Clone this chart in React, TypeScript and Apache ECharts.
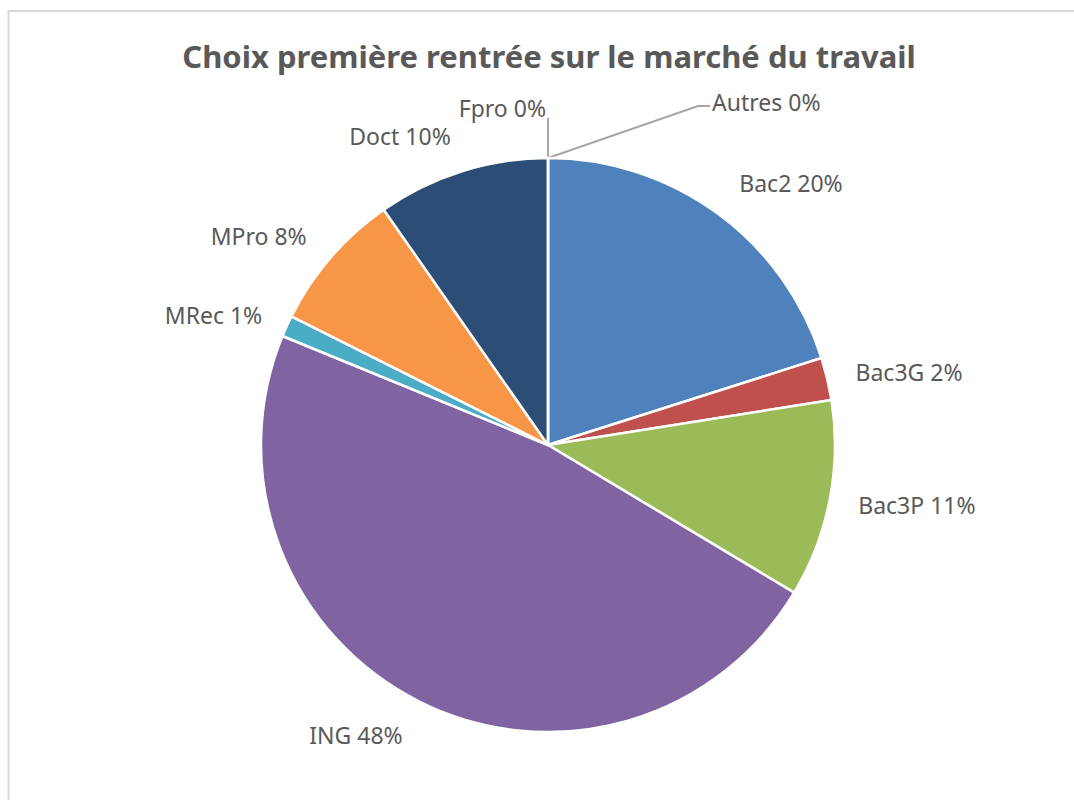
import React, { useEffect, useRef } from "react";
import * as echarts from "echarts";

const titleText = "Choix première rentrée sur le marché du travail";
const categories = ["Fpro", "Bac2", "Bac3G", "Bac3P", "ING", "MRec", "MPro", "Doct", "Autres"];
const values = [0, 20.1, 2.4, 11.1, 47.6, 1.2, 7.9, 9.7, 0];
const colors = ["#7f7f7f", "#4f81bd", "#c0504d", "#9bbb59", "#8064a2", "#4bacc6", "#f79646", "#2c4d75", "#a5a5a5"];
const lineLengths = [39, 37, 29, 29, 37, 27, 32, 37, 52];

export default function App() {
  const ref = useRef<HTMLDivElement>(null);
  useEffect(() => {
    if (!ref.current) return;
    const chart = echarts.init(ref.current, null, { renderer: "svg" });
    const data = categories.map((name, i) => {
      const item: any = {
        name,
        value: values[i],
        itemStyle: { color: colors[i] },
        labelLine: { length: lineLengths[i], length2: 0 },
      };
      if (name === "Autres") {
        item.labelLine = { show: true, length: lineLengths[i], length2: 160 };
        item.label = { distanceToLabelLine: 4 };
      } else if (name === "Fpro") {
        item.labelLine = { show: true, length: lineLengths[i], length2: 1 };
        item.label = { distanceToLabelLine: 1 };
      }
      return item;
    });
    chart.setOption({
      animation: false,
      backgroundColor: "#ffffff",
      title: {
        text: titleText,
        left: 544,
        top: 35,
        textAlign: "center",
        textStyle: {
          fontFamily: "Noto Sans",
          fontWeight: "bold",
          fontSize: 31,
          color: "#595959",
        },
      },
      graphic: [
        {
          type: "rect",
          shape: { x: 8.5, y: 11, width: 1200, height: 1000 },
          style: { fill: "none", stroke: "#d9d9d9", lineWidth: 2 },
          silent: true,
        },
      ],
      series: [
        {
          type: "pie",
          center: [548, 445],
          radius: 287,
          startAngle: 90,
          clockwise: true,
          avoidLabelOverlap: false,
          itemStyle: { borderColor: "#ffffff", borderWidth: 2.5 },
          label: {
            show: true,
            position: "outside",
            distanceToLabelLine: 0,
            fontFamily: "Noto Sans",
            fontSize: 23,
            color: "#595959",
            formatter: (p: any) => `${p.name} ${Math.round(p.percent)}%`,
          },
          labelLine: {
            show: false,
            smooth: false,
            lineStyle: { color: "#a6a6a6", width: 2 },
          },
          labelLayout: (params: any) => {
            const name = categories[params.dataIndex];
            const p = params.labelLinePoints;
            if (name === "Autres" && p) {
              const bx = p[1][0];
              const by = p[1][1];
              return {
                x: bx + 164,
                y: by - 4,
                align: "left",
                verticalAlign: "middle",
                labelLinePoints: [p[0], [bx + 150, by], [bx + 162, by]],
              };
            }
            if (name === "Fpro" && p) {
              return {
                verticalAlign: "bottom",
                labelLinePoints: [p[0], p[1], p[2]],
              };
            }
            return {};
          },
          emphasis: { disabled: true },
          data,
        },
      ],
    });
    return () => chart.dispose();
  }, []);
  return (
    <div
      ref={ref}
      style={{ position: "absolute", left: 0, top: 0, width: 1074, height: 800 }}
    />
  );
}
